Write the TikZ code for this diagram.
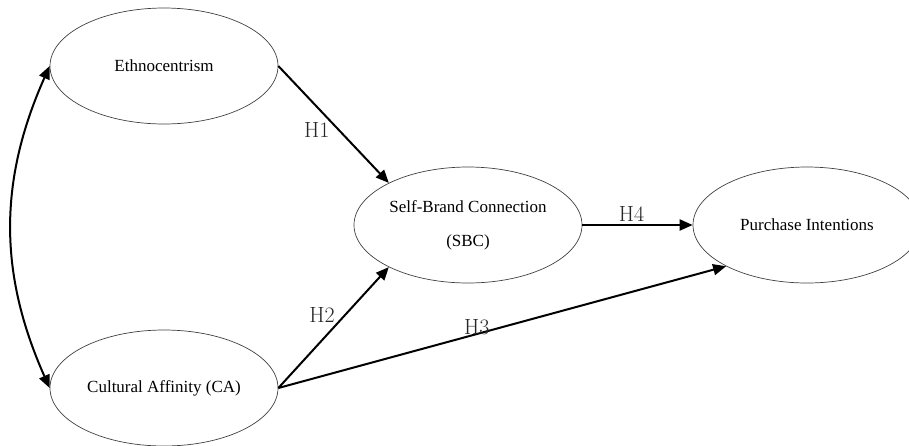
\documentclass[tikz,border=0pt]{standalone}
\usepackage{fontspec}
\newfontfamily\nodefont{Liberation Serif}
\usetikzlibrary{shapes.geometric,arrows.meta}
\begin{document}
\begin{tikzpicture}[x=1pt,y=-1pt,
  construct/.style={ellipse,draw=black!75,line width=0.7pt,minimum width=228pt,minimum height=116pt,inner sep=0pt,align=center,font=\nodefont\fontsize{17}{34}\selectfont},
  tip/.tip={Triangle[length=13pt,width=11pt]},
  path/.style={line width=2pt,-tip},
  hlab/.style={font=\fontsize{22}{24}\selectfont,text=black!85,inner sep=0pt}]
\useasboundingbox (0,0) rectangle (909,445);
\node[construct] (e) at (164,66) {Ethnocentrism};
\node[construct] (ca) at (164,388) {Cultural Affinity (CA)};
\node[construct] (sbc) at (468,225) {Self-Brand Connection\\(SBC)};
\node[construct] (pi) at (807,225) {Purchase Intentions};
\draw[line width=2pt,tip-tip] (e.west) to[bend right=24] (ca.west);
\draw[path] (e.east) -- node[hlab,pos=0.547,xshift=-22pt] (h1) {H1} (sbc.152);
\draw[path] (ca.east) -- node[hlab,pos=0.603,xshift=-23pt] (h2) {H2} (sbc.208);
\draw[path] (ca.east) -- node[hlab,pos=0.443,yshift=7pt] (h3) {H3} (pi.207);
\draw[path] (sbc.east) -- node[hlab,pos=0.445,yshift=11pt] (h4) {H4} (pi.west);
\end{tikzpicture}
\end{document}
